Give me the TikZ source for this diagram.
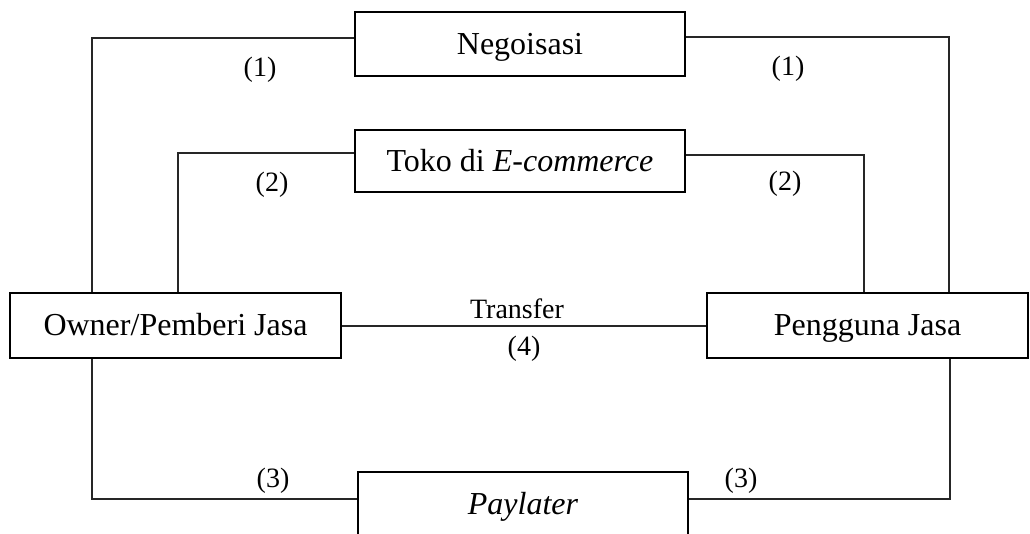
\documentclass[tikz,border=0pt]{standalone}
\usepackage{fontspec}
\setmainfont{Liberation Serif}
\begin{document}
\begin{tikzpicture}[x=1pt,y=-1pt,
  box/.style={draw=black,line width=1.8pt,inner sep=0pt,text height=27pt,text depth=7pt,align=center,font=\fontsize{32}{38}\selectfont},
  lbl/.style={inner sep=0pt,text height=23pt,text depth=6pt,font=\fontsize{28}{34}\selectfont},
  conn/.style={draw=black!85,line width=1.1pt}]
\useasboundingbox (0,0) rectangle (1030,533);
\node[box,minimum width=330,minimum height=64] (neg) at (520,44) {Negoisasi};
\node[box,minimum width=330,minimum height=62] (tok) at (520,161) {Toko di \textit{E-commerce}};
\node[box,minimum width=331,minimum height=65] (own) at (175.5,325.5) {Owner/Pemberi Jasa};
\node[box,minimum width=321,minimum height=65] (pen) at (867.5,325.5) {Pengguna Jasa};
\node[box,minimum width=330,minimum height=64] (pay) at (523,504) {\textit{Paylater}};
\draw[conn] (neg.west |- 0,38) -| (own.north -| 92,0);
\draw[conn] (neg.east |- 0,37) -| (pen.north -| 949,0);
\draw[conn] (tok.west |- 0,153) -| (own.north -| 178,0);
\draw[conn] (tok.east |- 0,155) -| (pen.north -| 864,0);
\draw[conn] (own.east |- 0,326) -- (pen.west |- 0,326);
\draw[conn] (own.south -| 92,0) |- (pay.west |- 0,499);
\draw[conn] (pen.south -| 950,0) |- (pay.east |- 0,499);
\node[lbl] (l1a) at (260,68) {(1)};
\node[lbl] (l1b) at (788,67) {(1)};
\node[lbl] (l2a) at (272,183) {(2)};
\node[lbl] (l2b) at (785,182) {(2)};
\node[lbl] (l3a) at (273,479) {(3)};
\node[lbl] (l3b) at (741,479) {(3)};
\node[lbl] (tr) at (517,310) {Transfer};
\node[lbl] (l4) at (524,347) {(4)};
\end{tikzpicture}
\end{document}
